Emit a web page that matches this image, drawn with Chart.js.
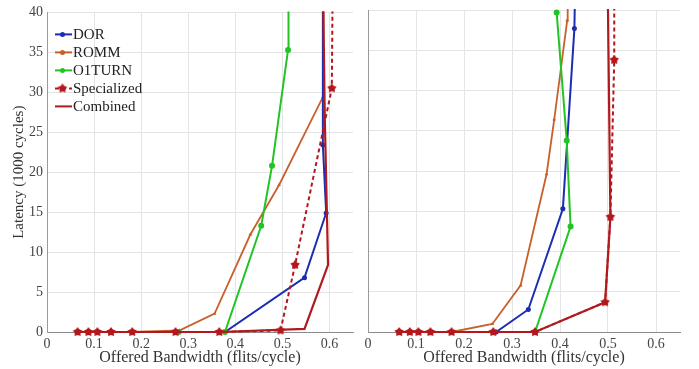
<!DOCTYPE html>
<html>
<head>
<meta charset="utf-8">
<script src="https://cdn.jsdelivr.net/npm/chart.js@4.4.1/dist/chart.umd.min.js"></script>
<style>
  body { margin: 0; background: #fff; width: 699px; height: 369px; overflow: hidden; position: relative; }
  #leftChart { position: absolute; left: 0; top: 0; }
  #rightChart { position: absolute; left: 358px; top: 0; }
</style>
</head>
<body>
<canvas id="leftChart" width="358" height="369"></canvas>
<canvas id="rightChart" width="341" height="369"></canvas>
<script>
const seriesNames = ["DOR", "ROMM", "O1TURN", "Specialized", "Combined"];
const xTicks = [0, 0.1, 0.2, 0.3, 0.4, 0.5, 0.6];
const yTicks = [0, 5, 10, 15, 20, 25, 30, 35, 40];

// left panel, [offered bandwidth, latency (1000 cycles)]
const leftDOR = [[0.065, 0], [0.088, 0], [0.107, 0], [0.136, 0], [0.181, 0], [0.273, 0], [0.378, 0], [0.547, 6.8], [0.593, 14.9], [0.586, 23.4], [0.586, 45]];
const leftROMM = [[0.065, 0], [0.088, 0], [0.107, 0], [0.136, 0], [0.181, 0], [0.282, 0.2], [0.356, 2.3], [0.432, 12.2], [0.493, 18.4], [0.586, 29.4], [0.588, 45]];
const leftO1TURN = [[0.065, 0], [0.088, 0], [0.107, 0], [0.136, 0], [0.181, 0], [0.28, 0], [0.378, 0], [0.455, 13.3], [0.478, 20.8], [0.512, 35.3], [0.513, 45]];
const leftSpecialized = [[0.065, 0], [0.088, 0], [0.107, 0], [0.136, 0], [0.181, 0], [0.273, 0], [0.366, 0], [0.496, 0.2], [0.527, 8.4], [0.605, 30.5], [0.607, 45]];
const leftCombined = [[0.065, 0], [0.088, 0], [0.107, 0], [0.136, 0], [0.181, 0], [0.273, 0], [0.366, 0], [0.547, 0.4], [0.597, 8.4], [0.59, 27], [0.586, 45]];

// right panel
const rightDOR = [[0.065, 0], [0.087, 0], [0.105, 0], [0.13, 0], [0.174, 0], [0.267, 0], [0.334, 2.8], [0.406, 15.3], [0.43, 37.7], [0.432, 45]];
const rightROMM = [[0.065, 0], [0.087, 0], [0.105, 0], [0.13, 0], [0.174, 0], [0.259, 1.0], [0.318, 5.8], [0.372, 19.6], [0.388, 26.4], [0.415, 38.7], [0.416, 45]];
const rightO1TURN = [[0.065, 0], [0.087, 0], [0.105, 0], [0.13, 0], [0.174, 0], [0.261, 0], [0.348, 0], [0.422, 13.1], [0.414, 23.8], [0.393, 39.7]];
const rightSpecialized = [[0.065, 0], [0.087, 0], [0.105, 0], [0.13, 0], [0.174, 0], [0.261, 0], [0.348, 0], [0.494, 3.7], [0.505, 14.3], [0.513, 33.8], [0.513, 45]];
const rightCombined = [[0.065, 0], [0.087, 0], [0.105, 0], [0.13, 0], [0.174, 0], [0.261, 0], [0.348, 0], [0.494, 3.7], [0.505, 14.3], [0.499, 45]];

const colors = ["#1c2db4", "#c8602c", "#22c425", "#b3161b", "#b01a1e"];

Chart.defaults.font.family = "'Liberation Serif', 'DejaVu Serif', serif";
Chart.defaults.color = "#444";

function starImage(color, r) {
  const c = document.createElement("canvas");
  c.width = c.height = 2 * r + 2;
  const g = c.getContext("2d");
  g.fillStyle = color;
  g.beginPath();
  for (let i = 0; i < 10; i++) {
    const rad = i % 2 === 0 ? r : r * 0.6;
    const a = -Math.PI / 2 + i * Math.PI / 5;
    const px = r + 1 + rad * Math.cos(a);
    const py = r + 1 + rad * Math.sin(a);
    if (i === 0) g.moveTo(px, py); else g.lineTo(px, py);
  }
  g.closePath();
  g.fill();
  return c;
}
const star = starImage(colors[3], 5);

function pts(arr) {
  return arr.map(p => ({ x: p[0], y: p[1] }));
}

function makeDatasets(series) {
  const style = [
    { pointStyle: "circle", pointRadius: 2.5, borderWidth: 2, order: 3 },
    { pointStyle: "triangle", pointRadius: 2.2, borderWidth: 1.8, order: 4 },
    { pointStyle: "circle", pointRadius: 3, borderWidth: 2, order: 2 },
    { pointStyle: star, pointRadius: 5, borderWidth: 2, borderDash: [4, 3], order: 1 },
    { pointStyle: "circle", pointRadius: 0, borderWidth: 2.2, order: 0 }
  ];
  return series.map((s, i) => Object.assign({
    label: seriesNames[i],
    data: pts(s),
    showLine: true,
    borderColor: colors[i],
    backgroundColor: colors[i],
    pointBorderWidth: 0,
    clip: { left: 6, right: 6, top: 1, bottom: 8 },
    tension: 0
  }, style[i]));
}

const insideLegend = {
  id: "insideLegend",
  afterDraw(chart) {
    if (!chart.options.plugins.insideLegend.show) return;
    const ctx = chart.ctx;
    const a = chart.chartArea;
    ctx.save();
    chart.data.datasets.forEach((ds, i) => {
      const y = a.top + 22 + i * 18;
      const x0 = a.left + 8, x1 = a.left + 25;
      ctx.strokeStyle = ds.borderColor;
      ctx.lineWidth = 2;
      ctx.setLineDash(ds.borderDash || []);
      ctx.beginPath();
      ctx.moveTo(x0, y);
      ctx.lineTo(x1, y);
      ctx.stroke();
      ctx.setLineDash([]);
      if (ds.pointRadius > 0) {
        const mx = (x0 + x1) / 2 - 1;
        if (ds.pointStyle instanceof HTMLCanvasElement) {
          ctx.drawImage(ds.pointStyle, mx - ds.pointStyle.width / 2, y - ds.pointStyle.height / 2);
        } else {
          ctx.fillStyle = ds.backgroundColor;
          ctx.beginPath();
          ctx.arc(mx, y, 2.5, 0, Math.PI * 2);
          ctx.fill();
        }
      }
      ctx.fillStyle = "#222";
      ctx.font = "15px 'Liberation Serif', serif";
      ctx.textBaseline = "middle";
      ctx.fillText(ds.label, x1 + 1, y + 1);
    });
    ctx.restore();
  }
};

function makeOptions(isLeft) {
  return {
    responsive: false,
    animation: false,
    layout: { padding: { top: 10, right: isLeft ? 3 : 19, left: 0, bottom: 0 } },
    plugins: {
      legend: { display: false },
      tooltip: { enabled: false },
      insideLegend: { show: isLeft }
    },
    scales: {
      x: {
        type: "linear",
        min: 0,
        max: 0.65,
        afterBuildTicks: s => { s.ticks = xTicks.map(v => ({ value: v })); },
        afterFit: s => { s.height = 37; },
        grid: { color: "#e4e4e4", drawTicks: false },
        border: { color: "#8a8a8a" },
        ticks: {
          padding: 4,
          font: { size: 14 },
          color: "#444",
          maxRotation: 0,
          callback: v => v === 0 ? "0" : v.toFixed(1)
        },
        title: {
          display: true,
          text: "Offered Bandwidth (flits/cycle)",
          font: { size: 16 },
          color: "#333",
          padding: { top: 0, bottom: 2 }
        }
      },
      y: {
        type: "linear",
        min: 0,
        max: 40,
        afterBuildTicks: s => { s.ticks = yTicks.map(v => ({ value: v })); },
        afterFit: s => { s.width = isLeft ? 47 : 10; },
        grid: { color: "#e4e4e4", drawTicks: false },
        border: { color: "#9a9a9a" },
        ticks: {
          display: isLeft,
          padding: 4,
          font: { size: 14 },
          color: "#444"
        },
        title: {
          display: isLeft,
          text: "Latency (1000 cycles)",
          font: { size: 15 },
          color: "#333",
          padding: { top: 10, bottom: 0 }
        }
      }
    }
  };
}

new Chart(document.getElementById("leftChart").getContext("2d"), {
  type: "scatter",
  data: { datasets: makeDatasets([leftDOR, leftROMM, leftO1TURN, leftSpecialized, leftCombined]) },
  options: makeOptions(true),
  plugins: [insideLegend]
});

new Chart(document.getElementById("rightChart").getContext("2d"), {
  type: "scatter",
  data: { datasets: makeDatasets([rightDOR, rightROMM, rightO1TURN, rightSpecialized, rightCombined]) },
  options: makeOptions(false),
  plugins: [insideLegend]
});
</script>
</body>
</html>
